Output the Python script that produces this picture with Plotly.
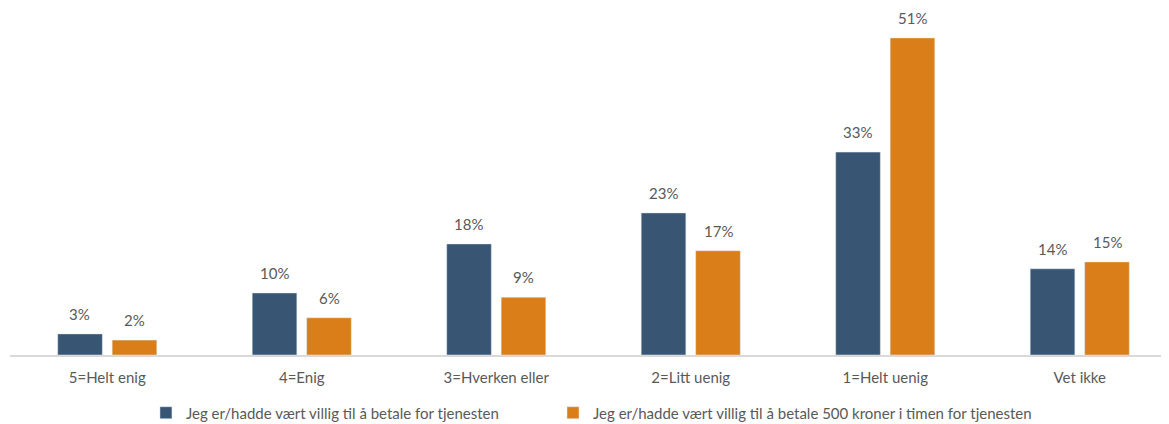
import plotly.graph_objects as go

categories = ["5=Helt enig", "4=Enig", "3=Hverken eller", "2=Litt uenig", "1=Helt uenig", "Vet ikke"]
betale = [3.4, 10.0, 17.9, 22.9, 32.7, 13.9]
betale_500 = [2.4, 6.0, 9.3, 16.8, 51.1, 15.0]
names = ["Jeg er/hadde vært villig til å betale for tjenesten",
         "Jeg er/hadde vært villig til å betale 500 kroner i timen for tjenesten"]
colors = ["#395574", "#d97e19"]

font = dict(family="Lato, Open Sans, sans-serif", size=15, color="#595959")

fig = go.Figure()
for i, vals in enumerate([betale, betale_500]):
    fig.add_trace(go.Bar(x=categories, y=vals, name=names[i], marker_color=colors[i],
                         legend="legend" if i == 0 else "legend2"))
    # value labels sit a bit higher above the bars than plotly's own outside text
    for c, v in zip(categories, vals):
        fig.add_annotation(x=c, y=v, text=f"{v:.0f}%", showarrow=False,
                           xshift=-27.3 if i == 0 else 27.3, yshift=9,
                           yanchor="bottom", font=font)

# two legends so the gap between the entries can match
leg = dict(orientation="h", xanchor="left", y=-0.168, yanchor="middle", font=font)

fig.update_layout(
    width=1169, height=424,
    margin=dict(l=2, r=0, t=2, b=77),
    plot_bgcolor="white", paper_bgcolor="white",
    font=font,
    barmode="group", bargap=0.44, bargroupgap=0.18,
    showlegend=True,
    legend=dict(leg, x=0.1165),
    legend2=dict(leg, x=0.4653),
    xaxis=dict(showline=True, linecolor="#d9d9d9", linewidth=1.5, ticks="outside",
               ticklen=8, tickcolor="rgba(0,0,0,0)", tickfont=font),
    yaxis=dict(range=[0, 55.6], visible=False, showgrid=False),
)
fig.write_html("out.html")
